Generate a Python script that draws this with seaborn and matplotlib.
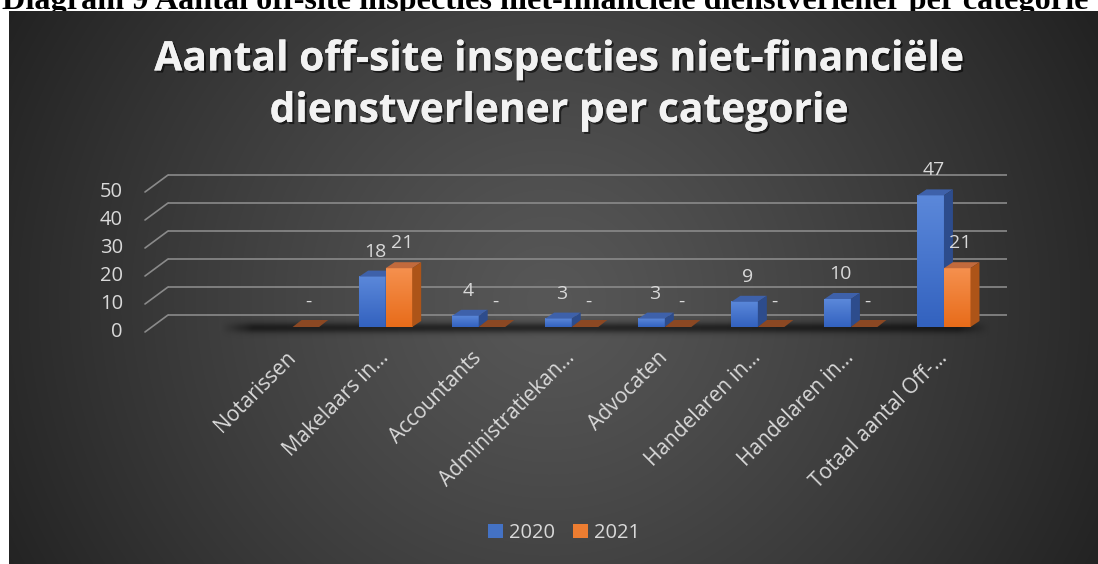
import numpy as np
import pandas as pd
import matplotlib
matplotlib.use("Agg")
import matplotlib.pyplot as plt
import seaborn as sns
from matplotlib.patches import Polygon
import matplotlib.patheffects as pe

# ---------------- data ----------------
caption = "Diagram 9 Aantal off-site inspecties niet-financiële dienstverlener per categorie"
title = "Aantal off-site inspecties niet-financiële\ndienstverlener per categorie"
categories = ["Notarissen", "Makelaars in…", "Accountants", "Administratiekan…",
              "Advocaten", "Handelaren in…", "Handelaren in…", "Totaal aantal Off-…"]
years = ["2020", "2021"]
values_2020 = [np.nan, 18, 4, 3, 3, 9, 10, 47]
values_2021 = [0, 21, 0, 0, 0, 0, 0, 21]
yticks = [0, 10, 20, 30, 40, 50]

# ---------------- style ----------------
sns.set_theme(style="white")
plt.rcParams["font.family"] = ["Open Sans", "DejaVu Sans"]

W, H, DPI = 1098, 564, 100
fig = plt.figure(figsize=(W / DPI, H / DPI), dpi=DPI)
fig.patch.set_facecolor("white")


def fx(px):
    return px / W


def fy(py):
    return 1 - py / H


TXT = "#d9d9d9"

# ---------------- dark panel with radial gradient ----------------
pl, pt = 9, 11
pan = fig.add_axes([fx(pl), 0, fx(W - pl), 1 - pt / H])
pan.set_zorder(0)
gx = np.arange(pl, W)
gy = np.arange(pt, H)
GX, GY = np.meshgrid(gx, gy)
r = np.sqrt(((GX - 549) / 620.0) ** 2 + ((GY - 300) / 600.0) ** 2)
r = np.clip(r, 0, 1) ** 1.2
val = (87 - 53 * r) / 255.0
img = np.dstack([val, val, val])
pan.imshow(img, extent=(pl, W, H, pt), aspect="auto", interpolation="bilinear")
pan.set_xlim(pl, W)
pan.set_ylim(H, pt)
pan.axis("off")

# ---------------- caption (partly hidden behind panel) ----------------
cap = fig.text(fx(2), fy(8.5), caption, ha="left", va="baseline",
               family="Liberation Serif", weight="bold", fontsize=20,
               color="black", zorder=-1)

# ---------------- chart title ----------------
ttl = fig.text(fx(559), fy(122), title, ha="center", va="baseline",
               fontsize=24.5, fontweight="bold", color="#f2f2f2",
               linespacing=1.34, zorder=5,
               path_effects=[pe.withSimplePatchShadow(offset=(1.5, -1.5),
                                                      shadow_rgbFace="black",
                                                      alpha=0.55),
                             pe.Normal()])

# ---------------- chart axes ----------------
AX_L, AX_R, AX_B, AX_T = 145, 1007, 327, 187
ax = fig.add_axes([fx(AX_L), fy(AX_B), (AX_R - AX_L) / W, (AX_B - AX_T) / H])
ax.set_zorder(1)
ax.patch.set_alpha(0)

x_left = -(292.6 - AX_L) / 93.05
x_right = x_left + (AX_R - AX_L) / 93.05
y_top = 50.0
px_x = (AX_R - AX_L) / (x_right - x_left)   # pixels per x unit
px_y = (AX_B - AX_T) / y_top                 # pixels per y unit

df = pd.DataFrame({
    "pos": np.tile(np.arange(len(categories)), 2),
    "year": np.repeat(years, len(categories)),
    "value": values_2020 + values_2021,
})

palette = ["#4472C4", "#ED7D31"]
sns.barplot(data=df, x="pos", y="value", hue="year", palette=palette,
            width=0.57, saturation=1, errorbar=None, linewidth=0,
            ax=ax, legend=True)

# 3D faces
face_styles = [
    dict(top_grad="#5b88da", bot_grad="#3362bf", top="#3e61aa", side="#2d4c8c", flat="#2d4c8c"),
    dict(top_grad="#f5904e", bot_grad="#e86c1a", top="#c26a3c", side="#ad5418", flat="#8b4823"),
]
dxd = 9 / px_x
dyd = 6 / px_y
dyf = 7 / px_y

for k, (cont, st) in enumerate(zip(ax.containers, face_styles)):
    zb = 3 + k
    for p in cont.patches:
        h = p.get_height()
        if h is None or np.isnan(h):
            continue
        x0, w = p.get_x(), p.get_width()
        p.set_zorder(zb)
        if h > 0:
            t = np.linspace(0, 1, 64)[:, None]
            c1 = np.array(matplotlib.colors.to_rgb(st["top_grad"]))
            c2 = np.array(matplotlib.colors.to_rgb(st["bot_grad"]))
            grad = (c1[None, None, :] * (1 - t[..., None]) + c2[None, None, :] * t[..., None])
            ax.imshow(grad, extent=(x0, x0 + w, 0, h), aspect="auto",
                      interpolation="bilinear", zorder=zb + 0.1)
            ax.add_patch(Polygon([(x0, h), (x0 + w, h), (x0 + w + dxd, h + dyd), (x0 + dxd, h + dyd)],
                                 closed=True, facecolor=st["top"], edgecolor="none",
                                 zorder=zb + 0.2, clip_on=False))
            ax.add_patch(Polygon([(x0 + w, 0), (x0 + w + dxd, dyd), (x0 + w + dxd, h + dyd), (x0 + w, h)],
                                 closed=True, facecolor=st["side"], edgecolor="none",
                                 zorder=zb + 0.2, clip_on=False))
        else:
            ax.add_patch(Polygon([(x0, 0), (x0 + w, 0), (x0 + w + dxd, dyf), (x0 + dxd, dyf)],
                                 closed=True, facecolor=st["flat"], edgecolor="none",
                                 zorder=zb + 0.2, clip_on=False))
        label = "-" if h == 0 else f"{h:g}"
        ax.annotate(label, (x0 + w / 2, h), xytext=(3, 25), textcoords="offset pixels",
                    ha="center", va="center", color=TXT, fontsize=14,
                    annotation_clip=False, zorder=6)

# floor shadow
sy = np.linspace(-5, 3, 80)
sx = np.linspace(-0.78, 7.5, 400)
prof_y = np.exp(-0.5 * ((sy + 0.4) / 1.3) ** 2)
ramp = np.clip((sx - sx[0]) / 0.35, 0, 1) * np.clip((sx[-1] - sx) / 0.35, 0, 1)
alpha = 0.55 * prof_y[:, None] * ramp[None, :]
shadow = np.zeros((len(sy), len(sx), 4))
shadow[..., 3] = alpha
ax.imshow(shadow, extent=(sx[0], sx[-1], sy[0], sy[-1]), origin="lower", aspect="auto",
          interpolation="bilinear", zorder=2, clip_on=False)

# gridlines (back wall + floor diagonal)
back_off = 12 / px_y
front_off = 5 / px_y
gx0 = 23 / (AX_R - AX_L)
ytr = ax.get_yaxis_transform()
for v in yticks:
    ax.plot([gx0, 1], [v + back_off, v + back_off], transform=ytr, color="#8a8a8a",
            lw=1.2, clip_on=False, zorder=0.5, solid_capstyle="butt")
    ax.plot([0, gx0], [v - front_off, v + back_off], transform=ytr, color="#8a8a8a",
            lw=1.2, clip_on=False, zorder=0.5)
    ax.text(-22 / (AX_R - AX_L), v - front_off, str(v), transform=ytr, ha="right",
            va="center", fontsize=14.5, color=TXT)

ax.set_xlim(x_left, x_right)
ax.set_ylim(0, y_top)
ax.set_yticks([])
ax.set_xticks(range(len(categories)))
ax.set_xticklabels(categories, rotation=45, ha="right", va="center",
                   rotation_mode="anchor", color=TXT, fontsize=15)
ax.tick_params(axis="x", length=0, pad=20)
ax.set_xlabel("")
ax.set_ylabel("")
for s in ax.spines.values():
    s.set_visible(False)

sns.move_legend(ax, "center", bbox_to_anchor=(fx(564), fy(533)),
                bbox_transform=fig.transFigure, ncol=2, frameon=False, title=None,
                fontsize=14.5, handlelength=0.75, handleheight=0.75,
                handletextpad=0.3, columnspacing=0.9, labelcolor=TXT)

# fit caption / title widths to the reference
fig.canvas.draw()
rend = fig.canvas.get_renderer()
for t_obj, target in [(cap, 1085), (ttl, 808)]:
    wpx = t_obj.get_window_extent(rend).width
    t_obj.set_fontsize(t_obj.get_fontsize() * target / wpx)

fig.savefig("out.png", dpi=DPI)
